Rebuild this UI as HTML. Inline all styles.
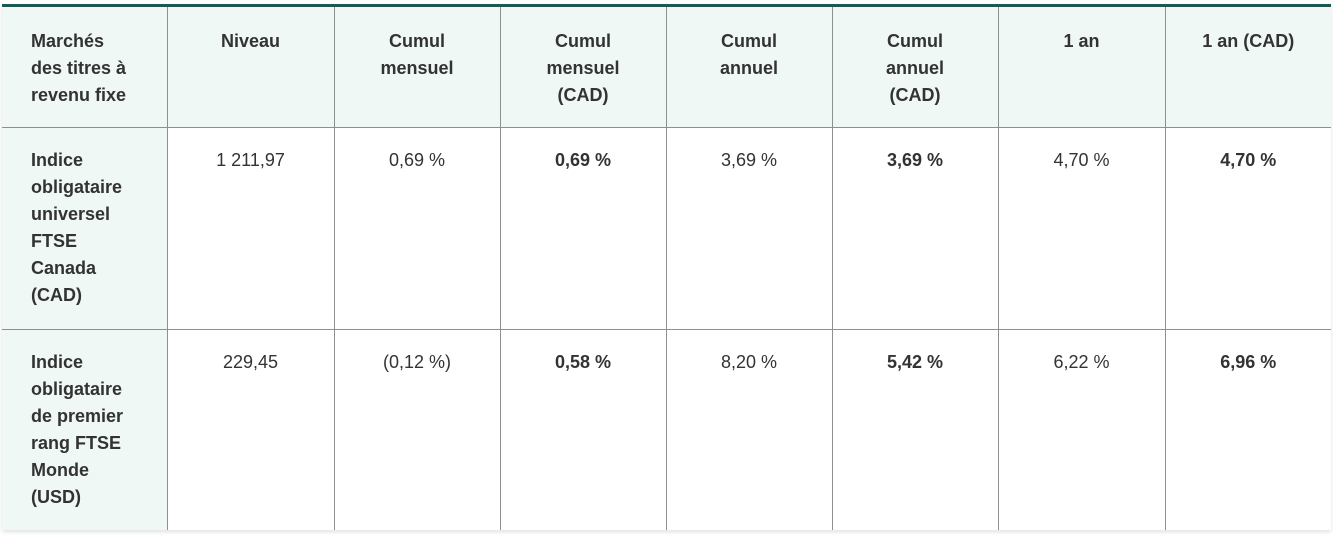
<!DOCTYPE html>
<html><head><meta charset="utf-8"><style>
body{margin:0;background:#fff;width:1333px;height:538px;overflow:hidden;font-family:"Liberation Sans",sans-serif;color:#333;}
.wrap{position:absolute;left:2px;top:4px;width:1329px;height:526px;box-shadow:0 2px 4px rgba(0,0,0,0.12);background:#fff;border-top:3px solid #0f5c5a;box-sizing:border-box;}
table{border-collapse:collapse;table-layout:fixed;width:1329px;font-size:18px;line-height:27px;}
td,th{vertical-align:top;padding:19px 10px 0 10px;text-align:center;border-left:1px solid #8f8f8f;}
th{padding-top:21px;font-weight:bold;background:#f0f8f6;height:120px;box-sizing:border-box;border-bottom:1px solid #8f8f8f;}
tr.r1 td{height:202px;box-sizing:border-box;border-bottom:1px solid #8f8f8f;}
tr.r2 td{height:201px;box-sizing:border-box;}
td.f,th.f{text-align:left;padding-left:29px;border-left:none;font-weight:bold;background:#f0f8f6;}
td{font-weight:normal;}
b{font-weight:bold;}
</style></head><body><div class="wrap"><table>
<colgroup><col style="width:165px"><col style="width:167px"><col style="width:166px"><col style="width:166px"><col style="width:166px"><col style="width:166px"><col style="width:167px"><col style="width:166px"></colgroup>
<tr><th class="f">Marchés<br>des titres à<br>revenu fixe</th><th>Niveau</th><th>Cumul<br>mensuel</th><th>Cumul<br>mensuel<br>(CAD)</th><th>Cumul<br>annuel</th><th>Cumul<br>annuel<br>(CAD)</th><th>1 an</th><th>1 an (CAD)</th></tr>
<tr class="r1"><td class="f">Indice<br>obligataire<br>universel<br>FTSE<br>Canada<br>(CAD)</td><td>1 211,97</td><td>0,69 %</td><td><b>0,69 %</b></td><td>3,69 %</td><td><b>3,69 %</b></td><td>4,70 %</td><td><b>4,70 %</b></td></tr>
<tr class="r2"><td class="f">Indice<br>obligataire<br>de premier<br>rang FTSE<br>Monde<br>(USD)</td><td>229,45</td><td>(0,12 %)</td><td><b>0,58 %</b></td><td>8,20 %</td><td><b>5,42 %</b></td><td>6,22 %</td><td><b>6,96 %</b></td></tr>
</table></div></body></html>
